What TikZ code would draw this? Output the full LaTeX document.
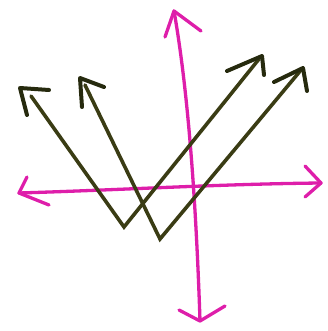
\documentclass[tikz,border=0pt]{standalone}
\definecolor{axmag}{RGB}{222,30,170}
\definecolor{olivedk}{RGB}{58,60,20}
\definecolor{olivehd}{RGB}{38,42,14}
\tikzset{
  axis/.style={draw=axmag,line width=3.3pt,line cap=round,line join=round},
  vec/.style={draw=olivedk,line width=3.6pt,line cap=round,line join=miter},
  head/.style={draw=olivehd,line width=4pt,line cap=round,line join=round},
}
\begin{document}
\begin{tikzpicture}[x=1pt,y=-1pt]
\useasboundingbox (0,0) rectangle (328,331);
% axes
\coordinate (vt) at (174,11);
\coordinate (vb) at (200,321);
\coordinate (hl) at (19,193);
\coordinate (hr) at (321,183);
\draw[axis] (vt) .. controls (188,90) and (196,200) .. (vb);
\draw[axis] (165,37) -- (vt) -- (201,31);
\draw[axis] (179,310) -- (vb) -- (225,306);
\draw[axis] (hl) .. controls (120,190) and (220,184) .. (hr);
\draw[axis] (27,177) -- (hl) -- (49,205);
\draw[axis] (305,166) -- (hr) -- (305,197);
% vectors
\coordinate (a1) at (31,96);
\coordinate (c1) at (124,227);
\coordinate (b1) at (259,59);
\coordinate (a2) at (85,85);
\coordinate (c2) at (160,239);
\coordinate (b2) at (301,70);
\draw[vec] (a1) -- (c1) -- (b1);
\draw[vec] (a2) -- (c2) -- (b2);
% arrowheads
\draw[head] (49,90) -- (20,88) -- (27,115);
\draw[head] (104,87) -- (80,78) -- (82,107);
\draw[head] (227,71) -- (262,56) -- (264,75);
\draw[head] (274,82) -- (303,68) -- (307,91);
\end{tikzpicture}
\end{document}
